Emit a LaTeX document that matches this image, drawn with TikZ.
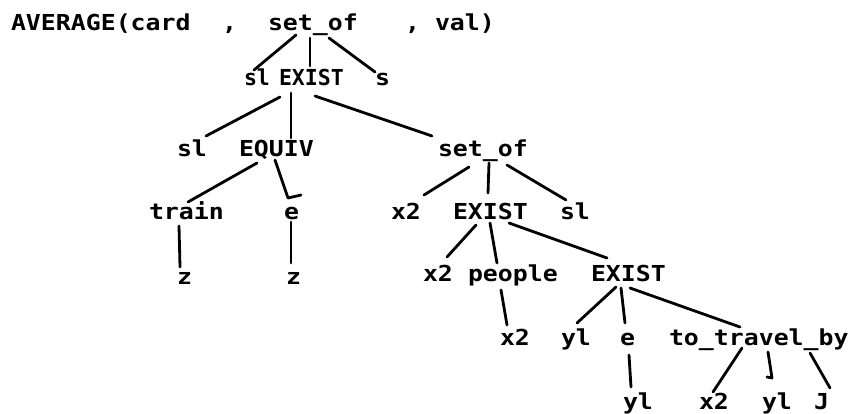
\documentclass[tikz,border=0pt]{standalone}
\usepackage{fontspec}
\newfontfamily\treefont[FakeStretch=1.13]{DejaVu Sans Mono}
\newfontfamily\narrowfont[FakeStretch=0.98]{DejaVu Sans Mono}
\begin{document}
\begin{tikzpicture}[x=1pt,y=-1pt,
  lbl/.style={anchor=base west,inner sep=0pt,outer sep=0pt,
    font=\treefont\bfseries\fontsize{22}{22}\selectfont},
  nlbl/.style={lbl,font=\narrowfont\bfseries\fontsize{22}{22}\selectfont},
  edge/.style={line width=2.8pt,line cap=round,line join=round}]
\useasboundingbox[fill=white] (0,0) rectangle (853,413);
% row 0
\node[lbl] (avg) at (11,30) {AVERAGE(card};
\node[lbl] (cA) at (222,30) {,};
\node[lbl] (setof0) at (268,30) {set\_of};
\node[lbl] (cB) at (405,30) {,};
\node[lbl] (val) at (435,30) {val)};
% row 1
\node[nlbl] (sl1) at (244,85) {sl};
\node[nlbl] (exist1) at (279,85) {EXIST};
\node[lbl] (s1) at (375,85) {s};
% row 2
\node[lbl] (sl2) at (177,156) {sl};
\node[lbl] (equiv) at (239,156) {EQUIV};
\node[lbl] (setof2) at (438,156) {set\_of};
% row 3
\node[lbl] (train) at (149,219) {train};
\node[lbl] (e3) at (284,219) {e};
\node[lbl] (x2a) at (391,219) {x2};
\node[lbl] (exist3) at (453,219) {EXIST};
\node[lbl] (sl3) at (560,219) {sl};
% row 4
\node[lbl] (z1) at (177,284) {z};
\node[lbl] (z2) at (286,284) {z};
\node[lbl] (x2b) at (423,281) {x2};
\node[lbl] (people) at (468,281) {people};
\node[lbl] (exist4) at (591,281) {EXIST};
% row 5
\node[lbl] (x2c) at (500,345) {x2};
\node[lbl] (yl5) at (561,345) {yl};
\node[lbl] (e5) at (620,345) {e};
\node[lbl] (totravel) at (669,345) {to\_travel\_by};
% row 6
\node[lbl] (yl6) at (623,409) {yl};
\node[lbl] (x2d) at (699,409) {x2};
\node[lbl] (yl6b) at (762,409) {yl};
\node[lbl] (J) at (814,409) {J};
% edges
\draw[edge] ([shift={(28,5)}]setof0.base west) -- ([shift={(10,-15)}]sl1.base west);
\draw[edge] ([shift={(42,8)}]setof0.base west) -- ([shift={(31,-19)}]exist1.base west);
\draw[edge] ([shift={(61,8)}]setof0.base west) -- ([shift={(0,-13)}]s1.base west);
\draw[edge] ([shift={(1,12)}]exist1.base west) -- ([shift={(29,-20)}]sl2.base west);
\draw[edge] ([shift={(12,8)}]exist1.base west) -- ([shift={(52,-18)}]equiv.base west);
\draw[edge] ([shift={(36,11)}]exist1.base west) -- ([shift={(-6,-20)}]setof2.base west);
\draw[edge] ([shift={(18,7)}]equiv.base west) -- ([shift={(39,-17)}]train.base west);
\draw[edge] ([shift={(36,4)}]equiv.base west) -- ([shift={(4,-21)}]e3.base west) -- ([shift={(17,-24)}]e3.base west);
\draw[edge] ([shift={(30,7)}]train.base west) -- ([shift={(3,-17)}]z1.base west);
\draw[edge] ([shift={(7,3)}]e3.base west) -- ([shift={(5,-21)}]z2.base west);
\draw[edge] ([shift={(31,11)}]setof2.base west) -- ([shift={(33,-24)}]x2a.base west);
\draw[edge] ([shift={(51,7)}]setof2.base west) -- ([shift={(35,-26)}]exist3.base west);
\draw[edge] ([shift={(69,9)}]setof2.base west) -- ([shift={(6,-19)}]sl3.base west);
\draw[edge] ([shift={(23,6)}]exist3.base west) -- ([shift={(24,-24)}]x2b.base west);
\draw[edge] ([shift={(37,4)}]exist3.base west) -- ([shift={(29,-18)}]people.base west);
\draw[edge] ([shift={(56,4)}]exist3.base west) -- ([shift={(16,-23)}]exist4.base west);
\draw[edge] ([shift={(33,9)}]people.base west) -- ([shift={(7,-20)}]x2c.base west);
\draw[edge] ([shift={(25,6)}]exist4.base west) -- ([shift={(16,-22)}]yl5.base west);
\draw[edge] ([shift={(30,7)}]exist4.base west) -- ([shift={(5,-22)}]e5.base west);
\draw[edge] ([shift={(39,7)}]exist4.base west) -- ([shift={(71,-18)}]totravel.base west);
\draw[edge] ([shift={(9,10)}]e5.base west) -- ([shift={(8,-22)}]yl6.base west);
\draw[edge] ([shift={(73,3)}]totravel.base west) -- ([shift={(14,-17)}]x2d.base west);
\draw[edge] ([shift={(99,7)}]totravel.base west) -- ([shift={(10,-31)}]yl6b.base west) -- ([shift={(5,-32)}]yl6b.base west);
\draw[edge] ([shift={(141,8)}]totravel.base west) -- ([shift={(16,-21)}]J.base west);
\end{tikzpicture}
\end{document}
